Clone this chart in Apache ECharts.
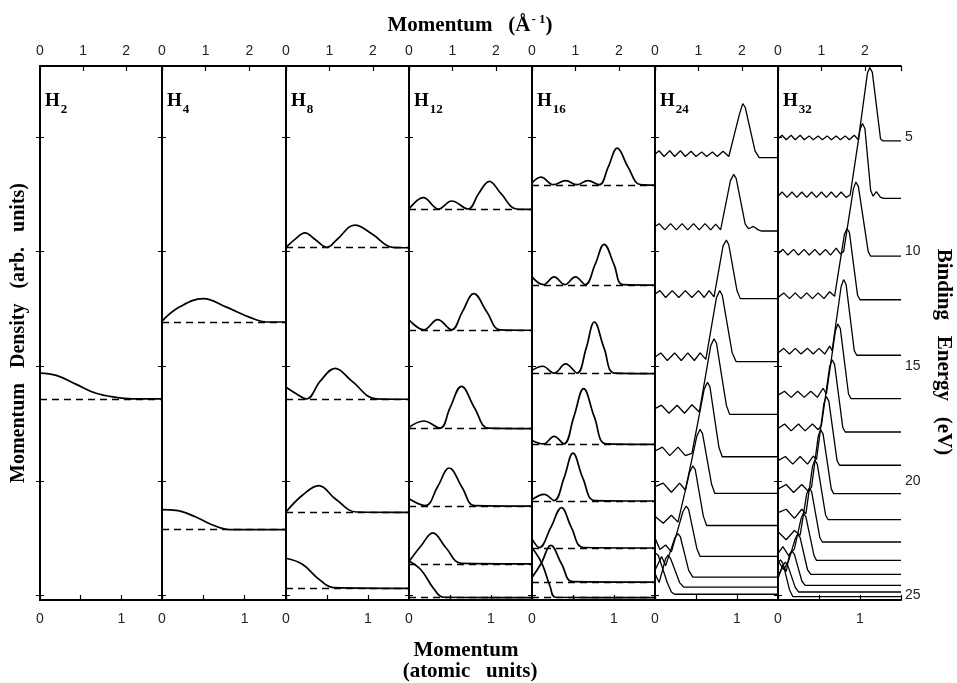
<!DOCTYPE html>
<html>
<head>
<meta charset="utf-8">
<script src="https://cdn.jsdelivr.net/npm/echarts@6/dist/echarts.min.js"></script>
<style>
  html, body { margin: 0; background: #fff; }
  #chart { width: 957px; height: 683px; }
</style>
</head>
<body>
<div id="chart"></div>
<script>
// binding-energy ticks (eV) and axis tick labels
const energyTicks = [5, 10, 15, 20, 25];
const auLabels = [0, 1];
const invAngLabels = [0, 1, 2];
const panelNames = ["2", "4", "8", "12", "16", "24", "32"];

// each curve: [momentum (a.u.), density height above its baseline (in eV units)]
const h2Energy = [16.42];
const h2Curves = [
  [[0, 1.12], [0.2, 1.02], [0.44, 0.64], [0.68, 0.25], [0.93, 0.06], [1.13, 0], [1.5, 0]],
];

const h4Energy = [13.07, 22.13];
const h4Curves = [
  [[0, 0.04], [0.21, 0.65], [0.5, 1.02], [0.78, 0.65], [1.07, 0.19], [1.27, 0], [1.5, 0]],
  [[0, 0.87], [0.17, 0.84], [0.41, 0.55], [0.62, 0.19], [0.83, 0], [1.5, 0]],
];

const h8Energy = [9.83, 16.44, 21.38, 24.69];
const h8Curves = [
  [[0, 0.02], [0.12, 0.4], [0.23, 0.65], [0.36, 0.35], [0.5, 0.02], [0.62, 0.35], [0.84, 0.99], [1.05, 0.6], [1.3, 0.02], [1.5, 0]],
  [[0, 0.52], [0.12, 0.25], [0.25, 0.01], [0.42, 0.8], [0.6, 1.35], [0.8, 0.8], [1.1, 0.02], [1.5, 0]],
  [[0, 0.02], [0.2, 0.75], [0.4, 1.17], [0.6, 0.6], [0.86, 0.02], [1.5, 0]],
  [[0, 1.31], [0.2, 1.05], [0.4, 0.4], [0.58, 0.03], [1.5, 0]],
];

const h12Energy = [8.16, 13.43, 17.72, 21.1, 23.62, 25.1];
const h12Curves = [
  [[0, 0.02], [0.175, 0.52], [0.36, 0.02], [0.52, 0.37], [0.72, 0.02], [0.85, 0.7], [0.98, 1.23], [1.12, 0.7], [1.31, 0.02], [1.5, 0]],
  [[0, 0.46], [0.18, 0.02], [0.35, 0.46], [0.52, 0.02], [0.65, 0.8], [0.79, 1.6], [0.95, 0.8], [1.11, 0.02], [1.5, 0]],
  [[0, 0.05], [0.18, 0.33], [0.38, 0.02], [0.5, 0.9], [0.64, 1.84], [0.8, 0.9], [0.97, 0.02], [1.5, 0]],
  [[0, 0.32], [0.2, 0.02], [0.35, 0.85], [0.49, 1.66], [0.65, 0.8], [0.8, 0.02], [1.5, 0]],
  [[0, 0.1], [0.15, 0.8], [0.29, 1.35], [0.45, 0.7], [0.64, 0.02], [1.5, 0]],
  [[0, 1.6], [0.15, 1.2], [0.3, 0.4], [0.42, 0.02], [1.5, 0]],
];

const h16Energy = [7.1, 11.46, 15.32, 18.41, 20.88, 22.93, 24.42, 25.1];
const h16Curves = [
  [[0, 0.1], [0.11, 0.35], [0.26, 0.02], [0.41, 0.2], [0.55, 0.02], [0.68, 0.2], [0.82, 0.02], [0.93, 0.8], [1.04, 1.62], [1.17, 0.8], [1.32, 0.02], [1.5, 0]],
  [[0, 0.36], [0.14, 0.02], [0.27, 0.36], [0.4, 0.02], [0.53, 0.36], [0.65, 0.02], [0.77, 0.9], [0.88, 1.78], [1.0, 0.9], [1.11, 0.02], [1.5, 0]],
  [[0, 0.14], [0.13, 0.32], [0.27, 0.02], [0.41, 0.42], [0.55, 0.02], [0.66, 1.1], [0.76, 2.25], [0.88, 1.1], [1.01, 0.02], [1.5, 0]],
  [[0, 0.17], [0.14, 0.02], [0.27, 0.35], [0.39, 0.02], [0.51, 1.2], [0.63, 2.43], [0.76, 1.2], [0.91, 0.02], [1.5, 0]],
  [[0, 0.06], [0.15, 0.29], [0.27, 0.02], [0.39, 1.0], [0.5, 2.09], [0.62, 1.0], [0.77, 0.02], [1.5, 0]],
  [[0, 0.4], [0.09, 0.02], [0.23, 0.9], [0.36, 1.76], [0.48, 0.9], [0.63, 0.02], [1.5, 0]],
  [[0, 0.2], [0.11, 0.8], [0.23, 1.6], [0.36, 0.8], [0.5, 0.02], [1.5, 0]],
  [[0, 2.18], [0.12, 1.5], [0.22, 0.5], [0.29, 0.02], [1.5, 0]],
];

const h24Energy = [5.9, 9.1, 12.05, 14.8, 17.1, 18.95, 20.55, 21.95, 23.3, 24.2, 24.64, 24.95];
const h24Curves = [
  [[0, 0.15], [0.05, 0.3], [0.11, 0.05], [0.18, 0.3], [0.24, 0.05], [0.31, 0.3], [0.37, 0.05], [0.44, 0.28], [0.5, 0.05], [0.57, 0.25], [0.63, 0.05], [0.7, 0.25], [0.76, 0.05], [0.83, 0.28], [0.9, 0.05], [1.03, 1.9], [1.07, 2.36], [1.1, 2.2], [1.22, 0.3], [1.27, 0], [1.5, 0]],
  [[0, 0.2], [0.05, 0.32], [0.12, 0.05], [0.19, 0.32], [0.26, 0.05], [0.33, 0.32], [0.4, 0.05], [0.47, 0.32], [0.54, 0.05], [0.61, 0.32], [0.68, 0.05], [0.74, 0.3], [0.8, 0.05], [0.92, 2.2], [0.96, 2.47], [0.99, 2.3], [1.1, 0.3], [1.14, 0.1], [1.2, 0.2], [1.26, 0.05], [1.3, 0], [1.5, 0]],
  [[0, 0.2], [0.06, 0.35], [0.13, 0.05], [0.21, 0.35], [0.29, 0.05], [0.37, 0.35], [0.45, 0.05], [0.53, 0.35], [0.6, 0.05], [0.66, 0.35], [0.72, 0.08], [0.83, 2.3], [0.87, 2.55], [0.9, 2.35], [1.0, 0.35], [1.04, 0], [1.5, 0]],
  [[0, 0.2], [0.07, 0.38], [0.15, 0.05], [0.24, 0.38], [0.32, 0.05], [0.4, 0.38], [0.48, 0.05], [0.55, 0.38], [0.62, 0.1], [0.75, 2.8], [0.79, 3.1], [0.82, 2.9], [0.94, 0.4], [0.99, 0], [1.5, 0]],
  [[0, 0.25], [0.08, 0.4], [0.17, 0.05], [0.27, 0.4], [0.36, 0.05], [0.45, 0.42], [0.54, 0.1], [0.68, 3.0], [0.72, 3.3], [0.75, 3.1], [0.87, 0.4], [0.91, 0], [1.5, 0]],
  [[0, 0.25], [0.09, 0.42], [0.18, 0.05], [0.28, 0.42], [0.37, 0.05], [0.45, 0.15], [0.6, 2.95], [0.64, 3.25], [0.67, 3.05], [0.78, 0.4], [0.82, 0], [1.5, 0]],
  [[0, 0.3], [0.1, 0.45], [0.2, 0.05], [0.3, 0.45], [0.37, 0.15], [0.51, 2.5], [0.55, 2.8], [0.58, 2.6], [0.69, 0.4], [0.73, 0], [1.5, 0]],
  [[0, 0.4], [0.1, 0.1], [0.2, 0.45], [0.28, 0.15], [0.42, 2.3], [0.46, 2.6], [0.49, 2.45], [0.59, 0.4], [0.63, 0], [1.5, 0]],
  [[0, 0.8], [0.06, 0.3], [0.13, 0.5], [0.2, 0.2], [0.34, 1.95], [0.38, 2.2], [0.41, 2.05], [0.51, 0.35], [0.55, 0], [1.5, 0]],
  [[0, 0.3], [0.08, 0.9], [0.13, 0.5], [0.24, 1.7], [0.28, 1.9], [0.31, 1.75], [0.41, 0.3], [0.46, 0], [1.5, 0]],
  [[0, 0.6], [0.05, 0.2], [0.13, 1.25], [0.16, 1.4], [0.19, 1.25], [0.3, 0.2], [0.35, 0], [1.5, 0]],
  [[0, 1.8], [0.04, 1.7], [0.15, 0.5], [0.2, 0.1], [0.24, 0], [1.5, 0]],
];

const h32Energy = [5.17, 7.68, 10.2, 12.1, 14.52, 16.41, 17.87, 19.32, 20.56, 21.69, 22.67, 23.47, 24.08, 24.56, 24.85, 25.05];
const h32Curves = [
  [[0, 0.1], [0.05, 0.25], [0.1, 0.05], [0.16, 0.25], [0.21, 0.05], [0.27, 0.25], [0.32, 0.05], [0.38, 0.22], [0.43, 0.05], [0.49, 0.22], [0.54, 0.05], [0.6, 0.22], [0.65, 0.05], [0.71, 0.22], [0.76, 0.05], [0.82, 0.22], [0.87, 0.05], [0.93, 0.25], [0.98, 0.05], [1.09, 2.95], [1.12, 3.2], [1.15, 3.0], [1.25, 0.1], [1.28, 0], [1.5, 0]],
  [[0, 0.1], [0.05, 0.28], [0.11, 0.05], [0.17, 0.28], [0.23, 0.05], [0.29, 0.28], [0.35, 0.05], [0.41, 0.28], [0.47, 0.05], [0.53, 0.28], [0.59, 0.05], [0.65, 0.28], [0.71, 0.05], [0.77, 0.28], [0.83, 0.05], [0.88, 0.15], [1.0, 3.0], [1.03, 3.27], [1.06, 3.05], [1.13, 0.35], [1.16, 0.1], [1.2, 0.3], [1.25, 0.05], [1.29, 0], [1.5, 0]],
  [[0, 0.1], [0.06, 0.3], [0.12, 0.05], [0.19, 0.3], [0.25, 0.05], [0.32, 0.3], [0.38, 0.05], [0.45, 0.3], [0.51, 0.05], [0.58, 0.3], [0.64, 0.05], [0.71, 0.35], [0.76, 0.1], [0.8, 0.2], [0.92, 2.95], [0.95, 3.24], [0.98, 3.05], [1.1, 0.2], [1.13, 0], [1.5, 0]],
  [[0, 0.1], [0.07, 0.3], [0.14, 0.05], [0.21, 0.3], [0.28, 0.05], [0.35, 0.3], [0.42, 0.05], [0.49, 0.3], [0.56, 0.05], [0.63, 0.35], [0.69, 0.15], [0.81, 2.85], [0.84, 3.1], [0.87, 2.95], [0.97, 0.2], [1.0, 0], [1.5, 0]],
  [[0, 0.1], [0.07, 0.3], [0.14, 0.05], [0.21, 0.3], [0.28, 0.05], [0.36, 0.3], [0.43, 0.05], [0.5, 0.3], [0.57, 0.05], [0.63, 0.4], [0.66, 0.2], [0.77, 3.0], [0.8, 3.3], [0.83, 3.1], [0.93, 0.2], [0.96, 0], [1.5, 0]],
  [[0, 0.15], [0.08, 0.32], [0.16, 0.05], [0.24, 0.32], [0.32, 0.05], [0.4, 0.32], [0.48, 0.05], [0.55, 0.45], [0.59, 0.2], [0.7, 2.95], [0.73, 3.25], [0.76, 3.05], [0.86, 0.2], [0.89, 0], [1.5, 0]],
  [[0, 0.15], [0.08, 0.35], [0.16, 0.05], [0.25, 0.35], [0.33, 0.05], [0.42, 0.35], [0.49, 0.1], [0.53, 0.3], [0.63, 2.85], [0.66, 3.15], [0.69, 2.95], [0.79, 0.2], [0.82, 0], [1.5, 0]],
  [[0, 0.2], [0.09, 0.38], [0.18, 0.05], [0.27, 0.38], [0.36, 0.05], [0.43, 0.4], [0.47, 0.25], [0.56, 2.7], [0.59, 3.0], [0.62, 2.8], [0.72, 0.2], [0.75, 0], [1.5, 0]],
  [[0, 0.2], [0.1, 0.4], [0.19, 0.05], [0.29, 0.4], [0.37, 0.1], [0.41, 0.3], [0.49, 2.5], [0.52, 2.8], [0.55, 2.6], [0.65, 0.2], [0.68, 0], [1.5, 0]],
  [[0, 0.3], [0.1, 0.45], [0.2, 0.05], [0.29, 0.45], [0.34, 0.25], [0.42, 2.3], [0.45, 2.6], [0.48, 2.4], [0.58, 0.2], [0.61, 0], [1.5, 0]],
  [[0, 0.45], [0.1, 0.1], [0.2, 0.5], [0.27, 0.3], [0.35, 2.1], [0.38, 2.35], [0.41, 2.2], [0.51, 0.2], [0.54, 0], [1.5, 0]],
  [[0, 0.3], [0.06, 0.6], [0.13, 0.2], [0.2, 0.5], [0.28, 1.8], [0.31, 2.05], [0.34, 1.9], [0.44, 0.2], [0.47, 0], [1.5, 0]],
  [[0, 0.6], [0.07, 0.2], [0.13, 0.6], [0.21, 1.55], [0.24, 1.75], [0.27, 1.6], [0.36, 0.2], [0.4, 0], [1.5, 0]],
  [[0, 0.3], [0.06, 0.9], [0.1, 0.6], [0.14, 1.35], [0.17, 1.5], [0.2, 1.35], [0.29, 0.2], [0.33, 0], [1.5, 0]],
  [[0, 0.7], [0.03, 0.9], [0.07, 1.2], [0.09, 1.3], [0.12, 1.15], [0.21, 0.2], [0.25, 0], [1.5, 0]],
  [[0, 1.5], [0.03, 1.6], [0.06, 1.45], [0.14, 0.3], [0.18, 0], [1.5, 0]],
];

const panels = [
  { energy: h2Energy, curves: h2Curves, smooth: true },
  { energy: h4Energy, curves: h4Curves, smooth: true },
  { energy: h8Energy, curves: h8Curves, smooth: true },
  { energy: h12Energy, curves: h12Curves, smooth: true },
  { energy: h16Energy, curves: h16Curves, smooth: true },
  { energy: h24Energy, curves: h24Curves, smooth: false },
  { energy: h32Energy, curves: h32Curves, smooth: false },
];

// layout
const panelLeft = [40, 162, 286, 409, 532, 655, 778, 901];
const plotTop = 66, plotBottom = 83;
const tickFont = { fontFamily: "Liberation Sans", fontSize: 14, color: "#222" };
const serif = "Liberation Serif";

const chart = echarts.init(document.getElementById("chart"), null, { renderer: "canvas" });

const grid = [], xAxis = [], yAxis = [], series = [], graphic = [];

panels.forEach(function (pn, i) {
  grid.push({
    left: panelLeft[i],
    width: panelLeft[i + 1] - panelLeft[i],
    top: plotTop,
    bottom: plotBottom,
  });
  // bottom: atomic units
  xAxis.push({
    gridIndex: i, type: "value", position: "bottom", min: 0, max: 1.5, interval: 0.5,
    axisLine: { onZero: false, lineStyle: { color: "#000", width: 2 } },
    axisTick: { inside: true, length: 5, lineStyle: { color: "#000", width: 1.2 } },
    axisLabel: Object.assign({
      margin: 12,
      formatter: function (v) { return auLabels.indexOf(v) >= 0 ? String(v) : ""; },
    }, tickFont),
    splitLine: { show: false },
  });
  // top: inverse angstroms (1 a.u. = 1.89 A^-1)
  xAxis.push({
    gridIndex: i, type: "value", position: "top", min: 0, max: 2.835, interval: 1,
    axisLine: { onZero: false, lineStyle: { color: "#000", width: 1.8 } },
    axisTick: { inside: true, length: 5, lineStyle: { color: "#000", width: 1.2 } },
    axisLabel: Object.assign({
      margin: 8,
      formatter: function (v) { return invAngLabels.indexOf(v) >= 0 ? String(v) : ""; },
    }, tickFont),
    splitLine: { show: false },
  });
  const yBase = {
    gridIndex: i, type: "value", inverse: true, min: 1.9, max: 25.2,
    axisLine: { show: true, lineStyle: { color: "#000", width: 1.8 } },
    axisTick: { show: true, inside: true, length: 4, customValues: energyTicks, lineStyle: { color: "#000" } },
    splitLine: { show: false },
  };
  yAxis.push(Object.assign({}, yBase, { position: "left", axisLabel: { show: false } }));
  yAxis.push(Object.assign({}, yBase, {
    position: "right",
    axisLabel: Object.assign({ show: i === panels.length - 1, customValues: energyTicks, margin: 4 }, tickFont),
  }));

  pn.energy.forEach(function (E, j) {
    const s = {
      type: "line",
      xAxisIndex: i * 2,
      yAxisIndex: i * 2,
      data: pn.curves[j].map(function (pt) { return [pt[0], E - pt[1]]; }),
      smooth: pn.smooth ? 0.4 : false,
      showSymbol: false,
      silent: true,
      lineStyle: { color: "#000", width: pn.smooth ? 1.7 : 1.3 },
    };
    if (i < 5) {
      s.markLine = {
        silent: true, symbol: "none", label: { show: false },
        lineStyle: { color: "#000", width: 1.4, type: [7, 5] },
        data: [{ yAxis: E }],
      };
    }
    series.push(s);
  });

  graphic.push({
    type: "text", left: panelLeft[i] + 5, top: 92,
    style: {
      text: "{h|H}{s|" + panelNames[i] + "}",
      rich: {
        h: { fontFamily: serif, fontWeight: "bold", fontSize: 19, fill: "#000", verticalAlign: "top", lineHeight: 20 },
        s: { fontFamily: serif, fontWeight: "bold", fontSize: 13, fill: "#000", verticalAlign: "top", lineHeight: 14, padding: [11, 0, 0, 1] },
      },
    },
  });
});

// axis titles
const titleFont = "bold 21px " + serif;
graphic.push({
  type: "text", x: 470, y: 25,
  style: {
    text: "{t|Momentum   (Å}{u|- 1}{t|)}", align: "center", verticalAlign: "middle",
    rich: {
      t: { fontFamily: serif, fontWeight: "bold", fontSize: 21, fill: "#000", verticalAlign: "bottom", lineHeight: 22 },
      u: { fontFamily: serif, fontWeight: "bold", fontSize: 13, fill: "#000", verticalAlign: "bottom", lineHeight: 13, padding: [0, 0, 10, 1] },
    },
  },
});
graphic.push({
  type: "text", x: 466, y: 651,
  style: { text: "Momentum", align: "center", verticalAlign: "middle", font: titleFont, fill: "#000" },
});
graphic.push({
  type: "text", x: 470, y: 672,
  style: { text: "(atomic   units)", align: "center", verticalAlign: "middle", font: titleFont, fill: "#000" },
});
graphic.push({
  type: "text", x: 19, y: 333, rotation: Math.PI / 2,
  style: { text: "Momentum   Density   (arb.   units)", align: "center", verticalAlign: "middle", font: "bold 20px " + serif, fill: "#000" },
});
graphic.push({
  type: "text", x: 943, y: 352, rotation: -Math.PI / 2,
  style: { text: "Binding   Energy   (eV)", align: "center", verticalAlign: "middle", font: "bold 21px " + serif, fill: "#000" },
});

chart.setOption({
  backgroundColor: "#fff",
  animation: false,
  grid: grid,
  xAxis: xAxis,
  yAxis: yAxis,
  series: series,
  graphic: graphic,
});
</script>
</body>
</html>
